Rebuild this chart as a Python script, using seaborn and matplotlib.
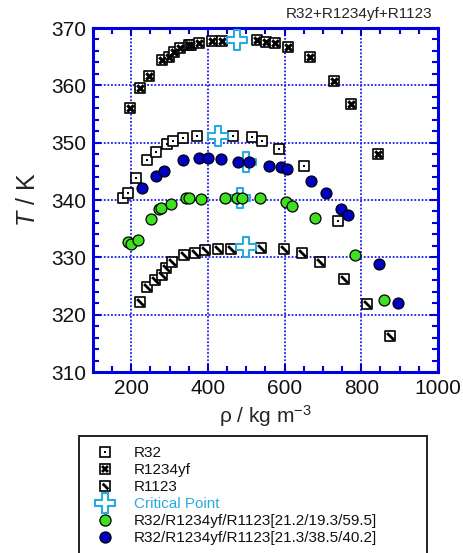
import matplotlib
matplotlib.use("Agg")
import matplotlib.pyplot as plt
import seaborn as sns
from matplotlib.lines import Line2D
from matplotlib.patches import Rectangle
from matplotlib.ticker import MultipleLocator

sns.set_theme(style="white")
plt.rcParams["font.family"] = ["Liberation Sans", "DejaVu Sans"]
plt.rcParams["mathtext.fontset"] = "custom"
plt.rcParams["mathtext.rm"] = "Liberation Sans"
plt.rcParams["mathtext.it"] = "Liberation Sans:italic"

AXIS_BLUE = "#0000dd"
CP_BLUE = "#29abe2"
GREEN = "#3fe021"
DARK_BLUE = "#0000c0"

# ---------- data ----------
r32_rho = [177, 191, 211, 241, 265, 294, 310, 334, 372, 464, 515, 542, 585, 651, 740]
r32_T = [340.4, 341.3, 343.8, 346.9, 348.4, 349.7, 350.3, 350.9, 351.2, 351.2, 351.0, 350.3, 348.9, 346.0, 336.4]

r1234yf_rho = [197, 222, 247, 279, 298, 312, 327, 350, 355, 377, 411, 436,
               528, 551, 575, 610, 667, 728, 772, 844]
r1234yf_T = [356.1, 359.5, 361.6, 364.4, 364.9, 365.8, 366.5, 367.0, 367.1, 367.3, 367.8, 367.8,
             367.9, 367.6, 367.3, 366.6, 364.9, 360.7, 356.7, 348.1]

r1123_rho = [222, 241, 261, 280, 290, 306, 338, 366, 391, 427, 460,
             539, 597, 645, 692, 755, 816, 874]
r1123_T = [322.2, 324.9, 326.0, 327.0, 328.2, 329.2, 330.4, 330.8, 331.3, 331.5, 331.5,
           331.7, 331.4, 330.7, 329.2, 326.3, 321.8, 316.2]

mixA_rho = [191, 199, 217, 252, 271, 278, 304, 342, 351, 383, 445, 475, 489, 536, 603, 620, 678, 784, 858]
mixA_T = [332.6, 332.4, 333.0, 336.6, 338.4, 338.6, 339.3, 340.3, 340.3, 340.2, 340.3, 340.3, 340.3,
          340.3, 339.7, 339.0, 336.9, 330.4, 322.5]

mixB_rho = [228, 265, 286, 334, 377, 401, 433, 477, 507, 559, 590, 605, 670, 708, 747, 766, 847, 896]
mixB_T = [342.1, 344.1, 345.1, 346.9, 347.4, 347.3, 347.1, 346.7, 346.6, 345.9, 345.7, 345.4,
          343.3, 341.3, 338.5, 337.4, 328.8, 322.0]

cp_rho = [476, 426, 500, 483, 500]
cp_T = [367.9, 351.2, 331.8, 340.4, 346.7]

labels = ["R32", "R1234yf", "R1123", "Critical Point",
          "R32/R1234yf/R1123[21.2/19.3/59.5]",
          "R32/R1234yf/R1123[21.3/38.5/40.2]"]

DIAG = [(-1, 1), (1, -1)]

fig = plt.figure(figsize=(4.64, 5.53), dpi=100)
ax = fig.add_axes([93 / 464, 1 - 372 / 553, (438 - 93) / 464, (372 - 28) / 553])

sq = dict(marker="s", s=46, facecolor="white", edgecolor="black", linewidth=1.2, zorder=3)
# R32: square with centre dot
sns.scatterplot(x=r32_rho, y=r32_T, ax=ax, **sq)
sns.scatterplot(x=r32_rho, y=r32_T, ax=ax, marker="s", s=3, color="black", linewidth=0, zorder=4)
# R1234yf: square with cross
sns.scatterplot(x=r1234yf_rho, y=r1234yf_T, ax=ax, **sq)
sns.scatterplot(x=r1234yf_rho, y=r1234yf_T, ax=ax, marker="X", s=40, color="black", linewidth=0, zorder=4)
# R1123: square with diagonal
sns.scatterplot(x=r1123_rho, y=r1123_T, ax=ax, **sq)
sns.scatterplot(x=r1123_rho, y=r1123_T, ax=ax, marker=DIAG, s=24, color="black",
                edgecolor="black", linewidth=2.0, zorder=4)
# critical points
sns.scatterplot(x=cp_rho, y=cp_T, ax=ax, marker="P", s=220, facecolor="white",
                edgecolor=CP_BLUE, linewidth=1.5, zorder=5)
# mixtures
sns.scatterplot(x=mixA_rho, y=mixA_T, ax=ax, marker="o", s=62, color=GREEN,
                edgecolor="black", linewidth=0.9, zorder=6)
sns.scatterplot(x=mixB_rho, y=mixB_T, ax=ax, marker="o", s=62, color=DARK_BLUE,
                edgecolor="black", linewidth=0.9, zorder=6)

ax.set_xlim(100, 1000)
ax.set_ylim(310, 370)
ax.set_xticks([200, 400, 600, 800, 1000])
ax.set_yticks([310, 320, 330, 340, 350, 360, 370])
ax.xaxis.set_minor_locator(MultipleLocator(50))
ax.yaxis.set_minor_locator(MultipleLocator(2))
ax.grid(True, which="major", color="#1c1cee", linestyle=(0, (1, 1)), linewidth=1.3)
ax.set_axisbelow(True)
for s in ax.spines.values():
    s.set_color(AXIS_BLUE)
    s.set_linewidth(2.2)
ax.tick_params(which="both", direction="in", top=True, right=True, bottom=True, left=True,
               color=AXIS_BLUE, labelsize=15, labelcolor="#111111")
ax.tick_params(which="major", length=6, width=1.5, pad=5)
ax.tick_params(which="minor", length=4, width=1.5)

ax.set_xlabel("ρ / kg m$^{-3}$", fontsize=15, labelpad=4)
ax.set_ylabel("$\\mathit{T}$ / K", fontsize=18, labelpad=8)
fig.text(432 / 464, 1 - 14 / 553, "R32+R1234yf+R1123", ha="right", va="center", fontsize=11)

# ---------- legend ----------
def sq_handle(inner, ms_inner, mew_inner=0):
    base = Line2D([], [], linestyle="none", marker="s", markersize=6.5, markerfacecolor="white",
                  markeredgecolor="black", markeredgewidth=1.2)
    top = Line2D([], [], linestyle="none", marker=inner, markersize=ms_inner, color="black",
                 markeredgewidth=mew_inner)
    return (base, top)

handles = [
    sq_handle("s", 1.6),
    sq_handle("X", 5.5),
    sq_handle(DIAG, 4, 2.0),
    Line2D([], [], linestyle="none", marker="P", markersize=14, markerfacecolor="white",
           markeredgecolor=CP_BLUE, markeredgewidth=1.5),
    Line2D([], [], linestyle="none", marker="o", markersize=8, markerfacecolor=GREEN,
           markeredgecolor="black", markeredgewidth=0.9),
    Line2D([], [], linestyle="none", marker="o", markersize=8, markerfacecolor=DARK_BLUE,
           markeredgecolor="black", markeredgewidth=0.9),
]
leg = fig.legend(handles, labels, loc="upper left", bbox_to_anchor=(94 / 464, 1 - 446 / 553),
                 frameon=False, fontsize=11, handlelength=1.5, handletextpad=1.1,
                 labelspacing=0.2, borderaxespad=0, borderpad=0)
leg.get_texts()[3].set_color(CP_BLUE)
for t in leg.get_texts():
    if t.get_text() != "Critical Point":
        t.set_color("#111111")

fig.patches.append(Rectangle((79 / 464, -0.05), (427 - 79) / 464, (553 - 436) / 553 + 0.05,
                             transform=fig.transFigure, fill=False, edgecolor="#222222",
                             linewidth=1.4))

plt.savefig("out.png", dpi=100)
plt.close()
